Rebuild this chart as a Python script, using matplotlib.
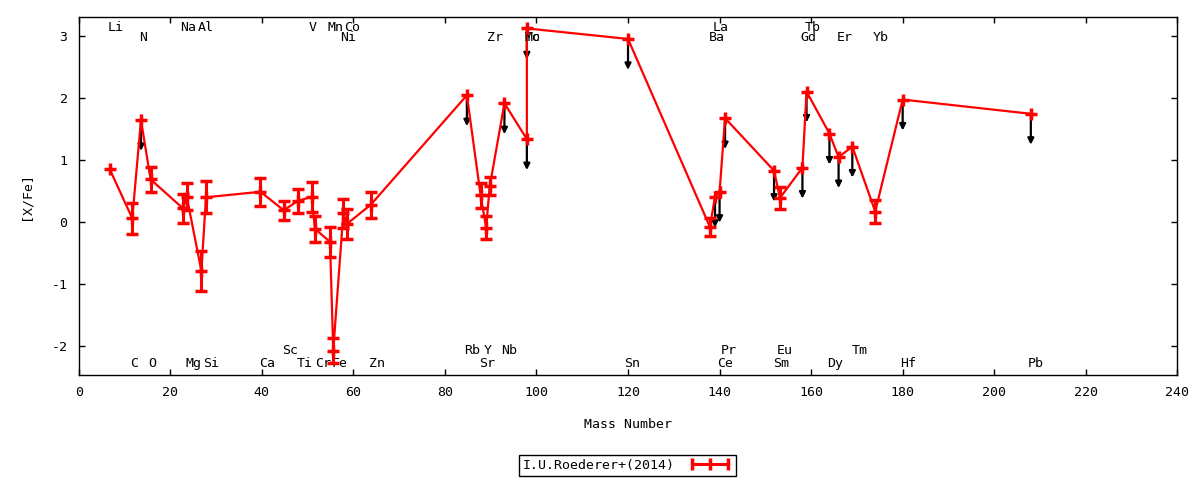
import matplotlib
matplotlib.use('Agg')
import matplotlib.pyplot as plt
from matplotlib.lines import Line2D

plt.rcParams['font.family'] = ['DejaVu Sans Mono']
plt.rcParams['font.size'] = 9.5
plt.rcParams['axes.unicode_minus'] = False

# abundance points, in the order the line joins them
elements = ['Li', 'C', 'N', 'O', 'Na', 'Mg', 'Al', 'Si', 'Ca', 'Sc', 'Ti', 'V', 'Cr', 'Mn', 'Fe', 'Co', 'Ni',
            'Zn', 'Rb', 'Sr', 'Y', 'Zr', 'Nb', 'Mo', 'Tc', 'Sn', 'Ba', 'La', 'Ce', 'Pr', 'Sm', 'Eu', 'Gd', 'Tb',
            'Dy', 'Er', 'Tm', 'Yb', 'Hf', 'Pb']
mass = [6.8, 11.7, 13.6, 15.7, 22.8, 23.6, 26.8, 27.8, 39.7, 44.8, 47.8, 50.9, 51.6, 54.9, 55.6, 57.8, 58.6,
        63.8, 84.8, 87.8, 89.0, 89.8, 93.0, 97.9, 97.9, 120.0, 137.9, 139.0, 140.0, 141.2, 151.9, 153.2, 158.1,
        159.0, 164.0, 166.0, 169.0, 174.0, 180.0, 208.0]
xfe = [0.85, 0.06, 1.65, 0.69, 0.22, 0.41, -0.79, 0.40, 0.49, 0.19, 0.34, 0.41, -0.11, -0.32, -2.08, 0.14, -0.03,
       0.28, 2.05, 0.43, -0.09, 0.58, 1.92, 1.34, 3.13, 2.96, -0.08, 0.41, 0.49, 1.68, 0.83, 0.39, 0.88,
       2.11, 1.43, 1.05, 1.22, 0.17, 1.98, 1.75]
err = [0.0, 0.25, 0.0, 0.2, 0.24, 0.22, 0.32, 0.26, 0.23, 0.15, 0.2, 0.24, 0.21, 0.24, 0.2, 0.23, 0.24,
       0.21, 0.0, 0.2, 0.18, 0.15, 0.0, 0.0, 0.0, 0.0, 0.14, 0.0, 0.0, 0.0, 0.0, 0.18, 0.0,
       0.0, 0.0, 0.0, 0.0, 0.19, 0.0, 0.0]
upper = [0, 0, 1, 0, 0, 0, 0, 0, 0, 0, 0, 0, 0, 0, 0, 0, 0,
         0, 1, 0, 0, 0, 1, 1, 1, 1, 0, 1, 1, 1, 1, 0, 1,
         1, 1, 1, 1, 0, 1, 1]
arrow_len = 0.5

# element name labels: two rows on top, two rows at the bottom
top1 = [('Li', 8.1), ('Na', 24.0), ('Al', 27.8), ('V', 51.0), ('Mn', 56.2), ('Co', 59.8), ('La', 140.3), ('Tb', 160.4)]
top2 = [('N', 14.0), ('Ni', 58.9), ('Zr', 91.0), ('Mo', 99.1), ('Tc', 99.1), ('Ba', 139.4), ('Gd', 159.3),
        ('Er', 167.4), ('Yb', 175.3)]
bot1 = [('Sc', 46.2), ('Rb', 86.0), ('Y', 89.3), ('Nb', 94.1), ('Pr', 142.0), ('Eu', 154.2), ('Tm', 170.6)]
bot2 = [('C', 12.1), ('O', 16.1), ('Mg', 25.0), ('Si', 28.9), ('Ca', 41.1), ('Ti', 49.3), ('Cr', 53.3),
        ('Fe', 56.9), ('Zn', 65.1), ('Sr', 89.2), ('Sn', 121.0), ('Ce', 141.2), ('Sm', 153.4), ('Dy', 165.2),
        ('Hf', 181.2), ('Pb', 209.1)]

fig = plt.figure(figsize=(12, 4.8), dpi=100)
ax = fig.add_axes([0.0656, 0.219, 0.9155, 0.745])

# upper limit arrows
for x, y, u in zip(mass, xfe, upper):
    if u:
        ax.annotate('', xy=(x, y - arrow_len), xytext=(x, y),
                    arrowprops=dict(arrowstyle='-|>', color='black', lw=1.6, mutation_scale=9,
                                    shrinkA=0, shrinkB=0), zorder=2)

ax.plot(mass, xfe, color='red', lw=1.6, zorder=3)
ex = [m for m, e in zip(mass, err) if e > 0]
ey = [v for v, e in zip(xfe, err) if e > 0]
ee = [e for e in err if e > 0]
ax.errorbar(ex, ey, yerr=ee, fmt='none', ecolor='red', elinewidth=2.2, capsize=4, capthick=2.5, zorder=4)
ax.plot(mass, xfe, ls='none', marker='+', color='red', markersize=8, mew=2.5, zorder=5)

for row, yy in [(top1, 3.14), (top2, 2.98), (bot1, -2.07), (bot2, -2.29)]:
    for name, x in row:
        ax.text(x, yy, name, ha='center', va='center', color='black')

ax.set_xlim(0, 240)
ax.set_ylim(-2.47, 3.31)
ax.set_xticks(range(0, 241, 20))
ax.set_yticks(range(-2, 4))
ax.tick_params(direction='in', top=True, right=True, length=4, width=1, pad=8)
for s in ax.spines.values():
    s.set_linewidth(1)
ax.set_xlabel('Mass Number', labelpad=14)
ax.set_ylabel('[X/Fe]', labelpad=14)

h = Line2D([], [], color='red', lw=2.2, marker='|', markersize=8, mew=2.5)
leg = fig.legend([h], ['I.U.Roederer+(2014)'], loc='center', bbox_to_anchor=(0.523, 0.031), markerfirst=False,
                 numpoints=3, handlelength=3.3, fancybox=False, framealpha=1, edgecolor='black',
                 borderpad=0.3, borderaxespad=0, handletextpad=1.0)
leg.get_frame().set_linewidth(1)

fig.savefig('out.png', dpi=100)
